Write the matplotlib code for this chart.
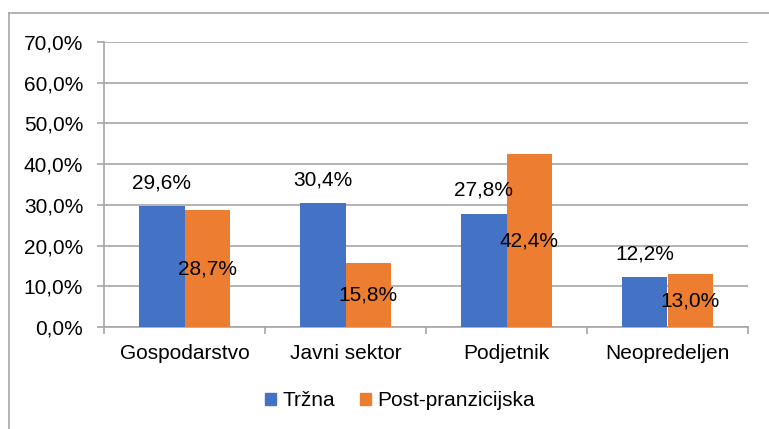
import matplotlib.pyplot as plt
from matplotlib.lines import Line2D
from matplotlib.patches import Patch
import numpy as np

plt.rcParams['font.family'] = ['Liberation Sans', 'DejaVu Sans']

categories = ['Gospodarstvo', 'Javni sektor', 'Podjetnik', 'Neopredeljen']
trzna = [29.6, 30.4, 27.8, 12.2]
post = [28.7, 15.8, 42.4, 13.0]
series_names = ['Tržna', 'Post-pranzicijska']
yticks = [0, 10, 20, 30, 40, 50, 60, 70]

blue = '#4472C4'
orange = '#ED7D31'
gray = '#A6A6A6'
fs = 15

fig = plt.figure(figsize=(7.69, 4.29), dpi=100)
ax = fig.add_axes([104 / 769, 1 - 327 / 429, (748 - 104) / 769, (327 - 42) / 429])

x = np.arange(len(categories))
w = 0.283
ax.bar(x - w / 2, trzna, w, color=blue, zorder=3)
ax.bar(x + w / 2, post, w, color=orange, zorder=3)

fmt = lambda v: f'{v:.1f}%'.replace('.', ',')
for xi, v in zip(x, trzna):
    ax.annotate(fmt(v), (xi - w / 2, v), xytext=(0, 17), textcoords='offset points',
                ha='center', va='center', fontsize=fs, zorder=4)
for xi, v in zip(x, post):
    ax.text(xi + w / 2, v / 2, fmt(v), ha='center', va='center', fontsize=fs, zorder=4)

ax.set_xlim(-0.5, len(categories) - 0.5)
ax.set_ylim(0, 70)
ax.set_yticks(yticks)
ax.set_yticklabels([f'{t:.1f}%'.replace('.', ',') for t in yticks], fontsize=fs)
ax.yaxis.grid(True, color=gray, linewidth=1.2, zorder=0)
ax.tick_params(axis='y', length=5, color=gray, width=1.2, pad=10)

ax.set_xticks(x)
ax.set_xticklabels(categories, fontsize=fs)
ax.set_xticks(np.arange(len(categories) + 1) - 0.5, minor=True)
ax.tick_params(axis='x', which='major', length=0, pad=12)
ax.tick_params(axis='x', which='minor', length=5, color=gray, width=1.2)

for s in ['top', 'right']:
    ax.spines[s].set_visible(False)
for s in ['left', 'bottom']:
    ax.spines[s].set_color(gray)
    ax.spines[s].set_linewidth(1.2)

handles = [Patch(color=blue), Patch(color=orange)]
fig.legend(handles, series_names, loc='center', bbox_to_anchor=(0.52, 1 - 401 / 429),
           ncol=2, frameon=False, fontsize=fs, handlelength=0.55, handleheight=0.55,
           handletextpad=0.3, columnspacing=1.2)

# outer chart border (left and top only visible)
fig.add_artist(Line2D([8.5 / 769, 8.5 / 769], [0, 1 - 12.5 / 429], transform=fig.transFigure,
                      color=gray, linewidth=1.2))
fig.add_artist(Line2D([8.5 / 769, 1], [1 - 12.5 / 429, 1 - 12.5 / 429], transform=fig.transFigure,
                      color=gray, linewidth=1.2))

fig.savefig('out.png', dpi=100)
